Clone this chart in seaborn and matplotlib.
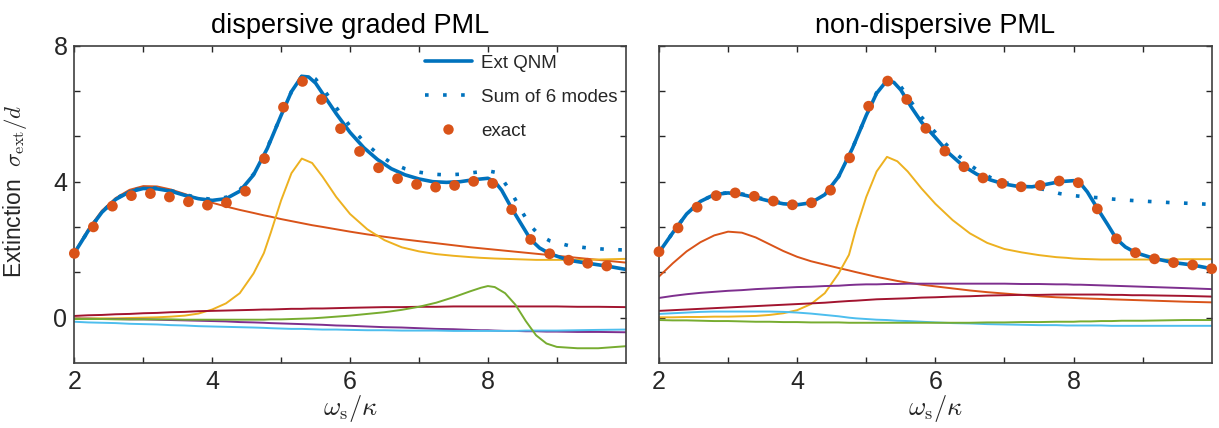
import numpy as np
import pandas as pd
import matplotlib
matplotlib.use("Agg")
import matplotlib.pyplot as plt
import seaborn as sns
from matplotlib.lines import Line2D

# ---------------- data ----------------
# exact (dots)
X_EXACT = np.linspace(2, 10, 30)
EXACT_L = [1.89, 2.67, 3.28, 3.59, 3.65, 3.55, 3.41, 3.31, 3.38, 3.72,
           4.68, 6.19, 6.95, 6.42, 5.56, 4.89, 4.41, 4.09, 3.92, 3.84,
           3.89, 4.01, 3.95, 3.18, 2.30, 1.88, 1.69, 1.60, 1.52]
EXACT_R = [1.94, 2.64, 3.25, 3.59, 3.67, 3.57, 3.43, 3.32, 3.38, 3.75,
           4.70, 6.22, 6.96, 6.42, 5.57, 4.90, 4.44, 4.11, 3.95, 3.85,
           3.89, 4.02, 3.97, 3.20, 2.32, 1.91, 1.73, 1.62, 1.55, 1.44]

# Ext QNM (solid) and Sum of 6 modes (dotted)
X_TOT = [2.0, 2.2, 2.4, 2.6, 2.8, 3.0, 3.2, 3.4, 3.6, 3.8, 4.0, 4.2, 4.4, 4.6,
         4.8, 5.0, 5.15, 5.3, 5.4, 5.5, 5.65, 5.8, 6.0, 6.2, 6.4, 6.6, 6.8,
         7.0, 7.2, 7.4, 7.6, 7.8, 8.0, 8.1, 8.2, 8.35, 8.5, 8.62, 8.75, 8.9,
         9.17, 9.45, 9.72, 10.0]
EXT_L = [1.9, 2.55, 3.1, 3.48, 3.7, 3.8, 3.79, 3.72, 3.6, 3.5, 3.45, 3.5,
         3.72, 4.2, 4.98, 5.95, 6.65, 7.1, 7.08, 6.9, 6.45, 6.0, 5.45, 5.0,
         4.65, 4.38, 4.2, 4.08, 4.0, 3.98, 4.0, 4.06, 4.1, 4.0, 3.75, 3.2,
         2.7, 2.3, 2.05, 1.88, 1.69, 1.6, 1.52, 1.42]
SUM_L = [1.9, 2.55, 3.1, 3.5, 3.72, 3.82, 3.81, 3.74, 3.62, 3.53, 3.48, 3.54,
         3.76, 4.22, 5.0, 5.95, 6.65, 7.1, 7.15, 7.02, 6.62, 6.18, 5.63, 5.18,
         4.82, 4.55, 4.38, 4.28, 4.22, 4.2, 4.22, 4.27, 4.32, 4.28, 4.1, 3.65,
         3.1, 2.7, 2.42, 2.26, 2.12, 2.05, 2.01, 1.99]
EXT_R = [1.92, 2.5, 3.05, 3.42, 3.62, 3.67, 3.62, 3.53, 3.43, 3.35, 3.32, 3.38,
         3.62, 4.15, 4.98, 5.95, 6.6, 6.98, 6.92, 6.7, 6.2, 5.75, 5.3, 4.83,
         4.47, 4.22, 4.05, 3.93, 3.86, 3.85, 3.92, 4.0, 4.03, 3.95, 3.7, 3.2,
         2.72, 2.32, 2.08, 1.91, 1.74, 1.62, 1.55, 1.44]
SUM_R = [1.92, 2.5, 3.05, 3.42, 3.62, 3.68, 3.64, 3.55, 3.45, 3.37, 3.34, 3.4,
         3.63, 4.15, 4.98, 5.95, 6.62, 7.0, 6.98, 6.8, 6.35, 5.9, 5.45, 5.0,
         4.65, 4.35, 4.12, 3.98, 3.88, 3.84, 3.76, 3.65, 3.59, 3.57, 3.55,
         3.53, 3.5, 3.48, 3.46, 3.44, 3.41, 3.38, 3.36, 3.33]

# individual modes
X_M = [2.0, 2.2, 2.4, 2.6, 2.8, 3.0, 3.2, 3.4, 3.6, 3.8, 4.0, 4.2, 4.4, 4.6,
       4.75, 4.85, 5.0, 5.15, 5.3, 5.45, 5.6, 5.8, 6.0, 6.25, 6.5, 6.75, 7.0,
       7.25, 7.5, 7.75, 7.9, 8.0, 8.1, 8.25, 8.4, 8.55, 8.7, 8.85, 9.0, 9.3,
       9.6, 10.0]
# dispersive graded PML
ORANGE_L = [1.92, 2.6, 3.15, 3.52, 3.76, 3.87, 3.86, 3.77, 3.64, 3.5, 3.38,
            3.27, 3.17, 3.08, 3.01, 2.97, 2.9, 2.84, 2.78, 2.72, 2.67, 2.6,
            2.53, 2.45, 2.38, 2.31, 2.25, 2.19, 2.13, 2.07, 2.04, 2.02, 2.0,
            1.97, 1.94, 1.91, 1.88, 1.85, 1.82, 1.76, 1.7, 1.62]
YELLOW_L = [-0.02, -0.02, -0.02, -0.02, -0.01, 0.0, 0.01, 0.03, 0.06, 0.12,
            0.24, 0.42, 0.72, 1.3, 1.9, 2.5, 3.45, 4.25, 4.68, 4.55, 4.15,
            3.55, 3.05, 2.6, 2.28, 2.07, 1.95, 1.87, 1.82, 1.78, 1.76, 1.75,
            1.74, 1.73, 1.72, 1.71, 1.7, 1.7, 1.7, 1.7, 1.71, 1.73]
DRED_L = [0.05, 0.07, 0.08, 0.1, 0.11, 0.13, 0.14, 0.16, 0.17, 0.19, 0.2,
          0.21, 0.22, 0.23, 0.24, 0.24, 0.25, 0.26, 0.26, 0.27, 0.27, 0.28,
          0.29, 0.3, 0.31, 0.31, 0.32, 0.32, 0.33, 0.33, 0.33, 0.33, 0.33,
          0.33, 0.33, 0.33, 0.33, 0.33, 0.33, 0.32, 0.32, 0.31]
PURPLE_L = [-0.03, -0.03, -0.04, -0.04, -0.05, -0.05, -0.06, -0.07, -0.08,
            -0.09, -0.1, -0.11, -0.13, -0.14, -0.15, -0.16, -0.17, -0.18,
            -0.19, -0.2, -0.21, -0.23, -0.24, -0.26, -0.28, -0.29, -0.31,
            -0.33, -0.34, -0.36, -0.37, -0.37, -0.38, -0.39, -0.39, -0.4,
            -0.4, -0.41, -0.41, -0.42, -0.42, -0.43]
LBLUE_L = [-0.12, -0.14, -0.15, -0.16, -0.18, -0.19, -0.2, -0.22, -0.23,
           -0.25, -0.26, -0.27, -0.28, -0.29, -0.3, -0.31, -0.32, -0.33,
           -0.33, -0.34, -0.35, -0.35, -0.36, -0.37, -0.37, -0.38, -0.38,
           -0.38, -0.39, -0.39, -0.39, -0.39, -0.39, -0.39, -0.39, -0.38,
           -0.38, -0.38, -0.38, -0.37, -0.36, -0.35]
GREEN_L = [-0.04, -0.04, -0.04, -0.05, -0.05, -0.05, -0.05, -0.05, -0.06,
           -0.06, -0.06, -0.06, -0.06, -0.06, -0.06, -0.05, -0.05, -0.04,
           -0.03, -0.02, 0.0, 0.03, 0.06, 0.11, 0.16, 0.23, 0.32, 0.44, 0.6,
           0.78, 0.88, 0.93, 0.9, 0.72, 0.38, -0.1, -0.52, -0.76, -0.86,
           -0.9, -0.9, -0.84]
# non-dispersive PML
ORANGE_R = [1.21, 1.6, 1.95, 2.22, 2.42, 2.53, 2.5, 2.36, 2.16, 1.96, 1.79,
            1.66, 1.56, 1.46, 1.39, 1.34, 1.27, 1.2, 1.14, 1.08, 1.03, 0.97,
            0.92, 0.86, 0.8, 0.75, 0.71, 0.67, 0.63, 0.6, 0.59, 0.58, 0.57,
            0.56, 0.55, 0.54, 0.53, 0.52, 0.51, 0.49, 0.47, 0.45]
YELLOW_R = [0.01, 0.01, 0.02, 0.02, 0.03, 0.03, 0.04, 0.05, 0.08, 0.13, 0.22,
            0.4, 0.72, 1.3, 1.85, 2.6, 3.55, 4.3, 4.73, 4.6, 4.3, 3.8, 3.35,
            2.87, 2.48, 2.2, 2.02, 1.92, 1.84, 1.78, 1.76, 1.74, 1.73, 1.72,
            1.71, 1.71, 1.71, 1.71, 1.71, 1.71, 1.72, 1.72]
DRED_R = [0.2, 0.22, 0.24, 0.26, 0.28, 0.3, 0.32, 0.34, 0.36, 0.38, 0.4, 0.42,
          0.44, 0.47, 0.49, 0.5, 0.52, 0.54, 0.55, 0.56, 0.57, 0.59, 0.6,
          0.62, 0.63, 0.65, 0.66, 0.67, 0.67, 0.68, 0.68, 0.68, 0.68, 0.68,
          0.68, 0.67, 0.67, 0.66, 0.66, 0.65, 0.64, 0.62]
PURPLE_R = [0.58, 0.64, 0.69, 0.73, 0.76, 0.79, 0.81, 0.84, 0.86, 0.88, 0.9,
            0.91, 0.93, 0.94, 0.96, 0.97, 0.98, 0.98, 0.99, 0.99, 1.0, 1.0,
            1.0, 1.0, 1.0, 1.0, 1.0, 0.99, 0.99, 0.98, 0.98, 0.97, 0.97, 0.96,
            0.95, 0.94, 0.93, 0.92, 0.91, 0.89, 0.87, 0.84]
LBLUE_R = [0.11, 0.13, 0.15, 0.17, 0.18, 0.18, 0.18, 0.18, 0.18, 0.17, 0.15,
           0.12, 0.08, 0.04, 0.0, -0.02, -0.04, -0.06, -0.07, -0.09, -0.1,
           -0.12, -0.14, -0.16, -0.17, -0.19, -0.2, -0.21, -0.22, -0.22,
           -0.23, -0.23, -0.23, -0.23, -0.23, -0.24, -0.24, -0.24, -0.24,
           -0.24, -0.24, -0.24]
GREEN_R = [-0.07, -0.08, -0.08, -0.09, -0.1, -0.1, -0.11, -0.12, -0.12,
           -0.13, -0.13, -0.14, -0.14, -0.14, -0.15, -0.15, -0.15, -0.15,
           -0.15, -0.15, -0.15, -0.15, -0.15, -0.15, -0.15, -0.14, -0.14,
           -0.13, -0.13, -0.12, -0.12, -0.12, -0.11, -0.11, -0.1, -0.1,
           -0.09, -0.09, -0.09, -0.08, -0.07, -0.07]

TITLES = ["dispersive graded PML", "non-dispersive PML"]
X_TICKS = [2, 3, 4, 5, 6, 7, 8, 9]
X_TICKLABELS = ["2", "", "4", "", "6", "", "8", ""]
Y_TICKS = [0, 4 / 3, 8 / 3, 4, 16 / 3, 20 / 3, 8]
Y_TICKLABELS = ["0", "", "", "4", "", "", "8"]
LEGEND_LABELS = ["Ext QNM", "Sum of 6 modes", "exact"]

# ---------------- style ----------------
C_BLUE = "#0072BD"
C_ORANGE = "#D95319"
C_YELLOW = "#EDB120"
C_PURPLE = "#7E2F8E"
C_GREEN = "#77AC30"
C_LBLUE = "#4DBEEE"
C_DRED = "#A2142F"

sns.set_theme(style="ticks")
plt.rcParams["font.family"] = ["Liberation Sans", "DejaVu Sans"]
plt.rcParams["mathtext.fontset"] = "cm"

fig = plt.figure(figsize=(12.19, 4.28), dpi=100)
ax_l = fig.add_axes([0.0610, 0.1519, 0.4523, 0.7413])
ax_r = fig.add_axes([0.5406, 0.1519, 0.4534, 0.7413])

panels = [
    (ax_l, EXACT_L, EXT_L, SUM_L,
     [ORANGE_L, YELLOW_L, DRED_L, PURPLE_L, LBLUE_L, GREEN_L]),
    (ax_r, EXACT_R, EXT_R, SUM_R,
     [ORANGE_R, YELLOW_R, DRED_R, PURPLE_R, LBLUE_R, GREEN_R]),
]
mode_colors = [C_ORANGE, C_YELLOW, C_DRED, C_PURPLE, C_LBLUE, C_GREEN]

for i, (ax, exact, ext, sm, modes) in enumerate(panels):
    for ys, col in zip(modes, mode_colors):
        sns.lineplot(x=X_M, y=ys, ax=ax, color=col, linewidth=1.4,
                     estimator=None, sort=False)
    sns.lineplot(x=X_TOT, y=ext, ax=ax, color=C_BLUE, linewidth=2.6,
                 estimator=None, sort=False)
    sns.lineplot(x=X_TOT, y=sm, ax=ax, color=C_BLUE, linewidth=2.6,
                 estimator=None, sort=False)
    ax.lines[-1].set_dashes((1, 4.0))
    ax.lines[-1].set_dash_capstyle("butt")
    sns.scatterplot(x=X_EXACT[:len(exact)], y=exact, ax=ax, color=C_ORANGE,
                    s=60, edgecolor="none", zorder=5, clip_on=False)

    ax.set_xlim(2, 10)
    ax.set_ylim(-4 / 3, 8)
    ax.set_xticks(X_TICKS)
    ax.set_xticklabels(X_TICKLABELS)
    ax.set_yticks(Y_TICKS)
    ax.set_yticklabels(Y_TICKLABELS if i == 0 else [""] * len(Y_TICKS))
    ax.tick_params(direction="in", length=4, width=1.0, top=True, right=True,
                   labelsize=18, colors="#262626", pad=5)
    for sp in ax.spines.values():
        sp.set_visible(True)
        sp.set_color("#404040")
        sp.set_linewidth(1.2)
    ax.set_title(TITLES[i], fontsize=19.5, pad=9, color="black")
    ax.set_xlabel(r"$\omega_{\mathrm{s}}/\kappa$", fontsize=19)
    ax.xaxis.set_label_coords(0.5, -0.095)
    ax.set_ylabel("")

ax_l.set_ylabel(r"Extinction  $\sigma_{\mathrm{ext}}/d$", fontsize=16.5)
ax_l.yaxis.set_label_coords(-0.083, 0.54)

handles = [
    Line2D([], [], color=C_BLUE, linewidth=2.6),
    Line2D([], [], color=C_BLUE, linewidth=2.6, dashes=(1, 4.0),
           dash_capstyle="butt"),
    Line2D([], [], color=C_ORANGE, linestyle="none", marker="o",
           markersize=7.5, markeredgecolor="none"),
]
ax_l.legend(handles, LEGEND_LABELS, loc="upper right",
            bbox_to_anchor=(0.985, 0.972), frameon=False, fontsize=13.5,
            handlelength=2.5, handletextpad=0.5, labelspacing=0.9,
            borderpad=0, borderaxespad=0)

fig.savefig("out.png", dpi=100)
